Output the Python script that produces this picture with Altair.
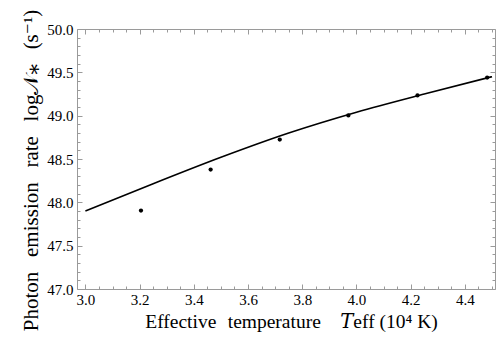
import altair as alt
import pandas as pd

# Model points (Teff in 10^4 K, log N*)
teff_pts = [3.205, 3.462, 3.717, 3.970, 4.225, 4.482]
logN_pts = [47.905, 48.378, 48.724, 49.003, 49.233, 49.440]

# Fitted curve
teff_fit = [3.00, 3.25, 3.50, 3.75, 4.00, 4.25, 4.50]
logN_fit = [47.90, 48.215, 48.52, 48.80, 49.04, 49.25, 49.45]

# Axis ticks
x_major = [3.0, 3.2, 3.4, 3.6, 3.8, 4.0, 4.2, 4.4]
x_minor = [3.05, 3.1, 3.15, 3.25, 3.3, 3.35, 3.45, 3.5, 3.55, 3.65, 3.7, 3.75,
           3.85, 3.9, 3.95, 4.05, 4.1, 4.15, 4.25, 4.3, 4.35, 4.45, 4.5]
y_major = [47.0, 47.5, 48.0, 48.5, 49.0, 49.5, 50.0]
y_minor = [47.1, 47.2, 47.3, 47.4, 47.6, 47.7, 47.8, 47.9, 48.1, 48.2, 48.3, 48.4,
           48.6, 48.7, 48.8, 48.9, 49.1, 49.2, 49.3, 49.4, 49.6, 49.7, 49.8, 49.9]

x_domain = [2.969, 4.511]
y_domain = [47.0, 50.0]

pts = pd.DataFrame({"teff": teff_pts, "logN": logN_pts})
fit = pd.DataFrame({"teff": teff_fit, "logN": logN_fit})

FONT = "Liberation Serif, DejaVu Serif, serif"
GRAY = "#9a9a9a"

GAP = "\u2002\u2009"
x_title = "Effective\u2002\u200atemperature\u2003\U0001D447eff (10\u2074 K)"
y_title = "Photon" + GAP + "emission" + GAP + "rate" + GAP + "log\U0001D4A9\u204E" + GAP + "(s\u207B\u00B9)"

xs = alt.Scale(domain=x_domain, nice=False, zero=False)
ys = alt.Scale(domain=y_domain, nice=False, zero=False)


def ax(orient, values, size, labels=False, title=None, **kw):
    return alt.Axis(orient=orient, values=values, offset=-size, tickSize=size,
                    tickColor=GRAY, tickWidth=1, domain=False, grid=False,
                    labels=labels, title=title, **kw)


line = alt.Chart(fit).mark_line(color="black", strokeWidth=1.6, interpolate="monotone").encode(
    x=alt.X("teff:Q", scale=xs,
            axis=ax("bottom", x_major, 5, labels=True, title=x_title,
                    format=".1f", labelFlush=False, labelOverlap=False,
                    labelPadding=3, labelFont=FONT, labelFontSize=15, labelColor="black",
                    titleFont=FONT, titleFontSize=19.5, titleFontWeight="normal",
                    titleColor="black", titleX=214, titleY=43,
                    titleBaseline="alphabetic", titleAlign="center")),
    y=alt.Y("logN:Q", scale=ys,
            axis=ax("left", y_major, 5, labels=True, title=y_title,
                    format=".1f", labelFlush=False, labelOverlap=False,
                    labelPadding=4, labelFont=FONT, labelFontSize=15, labelColor="black",
                    titleFont=FONT, titleFontSize=21, titleFontWeight="normal",
                    titleColor="black", titleX=-45, titleY=141, titleAngle=270,
                    titleBaseline="alphabetic", titleAlign="center")),
)

dots = alt.Chart(pts).mark_circle(color="black", size=18, opacity=1).encode(
    x=alt.X("teff:Q", scale=xs, axis=ax("bottom", x_minor, 3)),
    y=alt.Y("logN:Q", scale=ys, axis=ax("left", y_minor, 3)),
)

top_major = alt.Chart(pts).mark_circle(opacity=0).encode(
    x=alt.X("teff:Q", scale=xs, axis=ax("top", x_major, 5)),
    y=alt.Y("logN:Q", scale=ys, axis=ax("right", y_major, 5)),
)

top_minor = alt.Chart(pts).mark_circle(opacity=0).encode(
    x=alt.X("teff:Q", scale=xs, axis=ax("top", x_minor, 3)),
    y=alt.Y("logN:Q", scale=ys, axis=ax("right", y_minor, 3)),
)

chart = (
    alt.layer(line, dots, top_major, top_minor)
    .resolve_axis(x="independent", y="independent")
    .properties(
        width=418, height=260,
        autosize=alt.AutoSizeParams(type="none"),
        padding={"left": 69, "top": 21, "right": 1, "bottom": 43},
        background="white",
    )
    .configure_view(stroke=GRAY, strokeWidth=1)
)

chart.save("out.html", embed_options={"renderer": "svg", "actions": False})
